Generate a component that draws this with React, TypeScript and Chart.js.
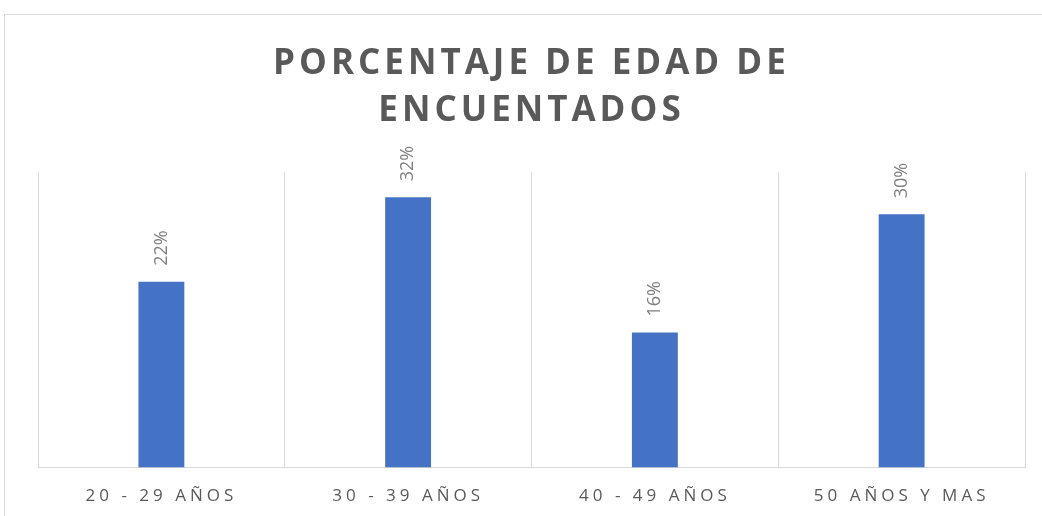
import React, { useEffect, useRef } from "react";
import { Chart, registerables } from "chart.js";

Chart.register(...registerables);

const categories = ["20 - 29 AÑOS", "30 - 39 AÑOS", "40 - 49 AÑOS", "50 AÑOS Y MAS"];
const values = [0.22, 0.32, 0.16, 0.3];
const titleLines = ["PORCENTAJE DE EDAD DE", "ENCUENTADOS"];

const spacingPlugin = {
  id: "spacing",
  beforeDraw(chart: any) {
    (chart.ctx as any).letterSpacing = "4px";
  },
  beforeDatasetsDraw(chart: any) {
    (chart.ctx as any).letterSpacing = "0px";
  },
  afterDraw(chart: any) {
    (chart.ctx as any).letterSpacing = "0px";
  },
};

const labelPlugin = {
  id: "barLabels",
  afterDatasetsDraw(chart: any) {
    const ctx = chart.ctx;
    const meta = chart.getDatasetMeta(0);
    ctx.save();
    (ctx as any).letterSpacing = "0px";
    ctx.fillStyle = "#7f7f7f";
    ctx.font = "18px 'Open Sans'";
    ctx.textAlign = "left";
    ctx.textBaseline = "middle";
    meta.data.forEach((bar: any, i: number) => {
      const v = chart.data.datasets[0].data[i] as number;
      ctx.save();
      ctx.translate(bar.x, bar.y - 16);
      ctx.rotate(-Math.PI / 2);
      ctx.fillText(Math.round(v * 100) + "%", 0, 0);
      ctx.restore();
    });
    ctx.restore();
    // spacing for the title, drawn after datasets (z: 1)
    (ctx as any).letterSpacing = "4px";
  },
};

export default function App() {
  const ref = useRef<HTMLCanvasElement>(null);
  useEffect(() => {
    if (!ref.current) return;
    const chart = new Chart(ref.current, {
      type: "bar",
      data: {
        labels: categories,
        datasets: [
          {
            data: values,
            backgroundColor: "#4472C4",
            categoryPercentage: 1,
            barPercentage: 0.186,
          },
        ],
      },
      options: {
        animation: false,
        responsive: false,
        layout: { padding: { left: 38, right: 17, bottom: -8, top: 0 } },
        plugins: {
          legend: { display: false },
          tooltip: { enabled: false },
          title: {
            display: true,
            z: 1,
            text: titleLines,
            color: "#595959",
            font: { family: "'Open Sans'", size: 35, weight: "bold", lineHeight: 1.343 },
            padding: { top: 41, bottom: 37 },
          },
        },
        scales: {
          x: {
            grid: { color: "#d9d9d9", drawTicks: false, offset: true },
            border: { color: "#d9d9d9" },
            ticks: {
              color: "#595959",
              font: { family: "'Open Sans'", size: 17 },
              padding: 18,
              maxRotation: 0,
            },
          },
          y: { display: false, min: 0, max: 0.35 },
        },
      },
      plugins: [spacingPlugin, labelPlugin],
    });
    return () => chart.destroy();
  }, []);
  return (
    <div style={{ position: "absolute", left: 0, top: 0, width: 1042, height: 516, background: "#fff" }}>
      <div
        style={{
          position: "absolute",
          left: 4,
          top: 14,
          right: -10,
          bottom: -10,
          borderLeft: "1px solid #d9d9d9",
          borderTop: "1px solid #d9d9d9",
        }}
      />
      <canvas ref={ref} width={1042} height={516} style={{ position: "absolute", left: 0, top: 0 }} />
    </div>
  );
}
